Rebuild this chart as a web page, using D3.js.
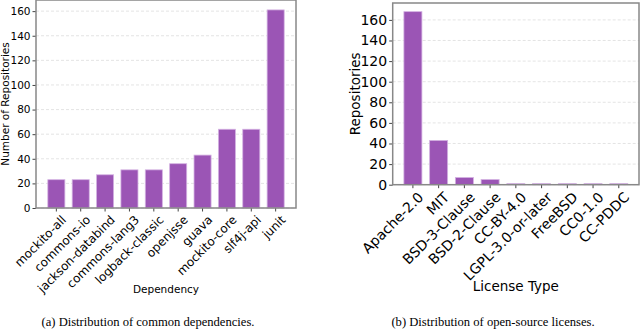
<!DOCTYPE html>
<meta charset="utf-8">
<style>
body { margin: 0; background: #fff; }
svg { display: block; }
.tick text { fill: #000; font-family: "DejaVu Sans", sans-serif; }
.grid line { stroke: #ddd; stroke-dasharray: 3,2; stroke-width: 0.8; }
.frame { fill: none; stroke: #888; stroke-width: 1.5; }
.bar { fill: #9b55b5; stroke: #d4b2e2; stroke-width: 0.8; }
.title { font-family: "DejaVu Sans", sans-serif; fill: #000; text-anchor: middle; }
.caption { font-family: "Liberation Serif", "Times New Roman", serif; font-size: 12.6px; fill: #000; text-anchor: middle; }
</style>
<svg class="chart" width="640" height="329"></svg>
<script src="https://d3js.org/d3.v7.min.js"></script>
<script>

var depNames = ["mockito-all", "commons-io", "jackson-databind", "commons-lang3", "logback-classic",
                "openjsse", "guava", "mockito-core", "slf4j-api", "junit"];
var depCounts = [23, 23, 27, 31, 31, 36, 43, 64, 64, 161];

var licNames = ["Apache-2.0", "MIT", "BSD-3-Clause", "BSD-2-Clause", "CC-BY-4.0",
                "LGPL-3.0-or-later", "FreeBSD", "CC0-1.0", "CC-PDDC"];
var licCounts = [168, 43, 7, 5, 1, 1, 1, 1, 1];

var yTicks = [0, 20, 40, 60, 80, 100, 120, 140, 160];

var svg = d3.select(".chart");

function drawPanel(opt) {
  var g = svg.append("g");
  var x = d3.scaleBand()
      .domain(opt.names)
      .range([opt.left, opt.right])
      .paddingInner(0.3)
      .paddingOuter(opt.outer);
  var y = d3.scaleLinear()
      .domain([0, d3.max(opt.values) * 1.05])
      .range([opt.bottom, opt.top]);

  g.append("g")
      .attr("class", "grid")
      .selectAll("line")
      .data(yTicks)
      .enter().append("line")
        .attr("x1", opt.left)
        .attr("x2", opt.right)
        .attr("y1", function(d) { return y(d); })
        .attr("y2", function(d) { return y(d); });

  g.append("g")
      .selectAll("rect")
      .data(opt.values)
      .enter().append("rect")
        .attr("class", "bar")
        .attr("x", function(d, i) { return x(opt.names[i]); })
        .attr("width", x.bandwidth())
        .attr("y", function(d) { return y(d); })
        .attr("height", function(d) { return opt.bottom - y(d); });

  var yAxis = g.append("g")
      .attr("transform", "translate(" + opt.left + ",0)")
      .call(d3.axisLeft(y).tickValues(yTicks).tickSize(3.5).tickPadding(2));
  yAxis.select(".domain").remove();
  yAxis.selectAll(".tick line").attr("stroke", "#444");
  yAxis.selectAll(".tick text").style("font-size", opt.fs + "px");

  var xAxis = g.append("g")
      .attr("transform", "translate(0," + opt.bottom + ")")
      .call(d3.axisBottom(x).tickSize(3.5).tickPadding(0));
  xAxis.select(".domain").remove();
  xAxis.selectAll(".tick line").attr("stroke", "#444");
  xAxis.selectAll(".tick text")
      .style("font-size", opt.xfs + "px")
      .attr("text-anchor", "end")
      .attr("dy", "0.6em")
      .attr("transform", "translate(3,5) rotate(-45)");

  g.append("rect")
      .attr("class", "frame")
      .attr("x", opt.left)
      .attr("y", opt.top)
      .attr("width", opt.right - opt.left)
      .attr("height", opt.bottom - opt.top);

  g.append("text")
      .attr("class", "title")
      .style("font-size", opt.tfs + "px")
      .attr("x", (opt.left + opt.right) / 2)
      .attr("y", opt.xTitleY)
      .text(opt.xTitle);

  g.append("text")
      .attr("class", "title")
      .style("font-size", opt.tfs + "px")
      .attr("transform", "translate(" + opt.yTitleX + "," + ((opt.top + opt.bottom) / 2) + ") rotate(-90)")
      .text(opt.yTitle);

  g.append("text")
      .attr("class", "caption")
      .attr("x", opt.capX)
      .attr("y", 326)
      .text(opt.caption);
}

drawPanel({
  names: depNames, values: depCounts,
  left: 36, right: 296, top: 0, bottom: 208, outer: 0.485,
  fs: 10.5, xfs: 12, tfs: 10.5,
  xTitle: "Dependency", xTitleY: 293,
  yTitle: "Number of Repositories", yTitleX: 9,
  caption: "(a) Distribution of common dependencies.", capX: 148
});

drawPanel({
  names: licNames, values: licCounts,
  left: 392.7, right: 639, top: 3, bottom: 184.7, outer: 0.435,
  fs: 14, xfs: 14, tfs: 13.5,
  xTitle: "License Type", xTitleY: 291,
  yTitle: "Repositories", yTitleX: 360,
  caption: "(b) Distribution of open-source licenses.", capX: 493
});

</script>
